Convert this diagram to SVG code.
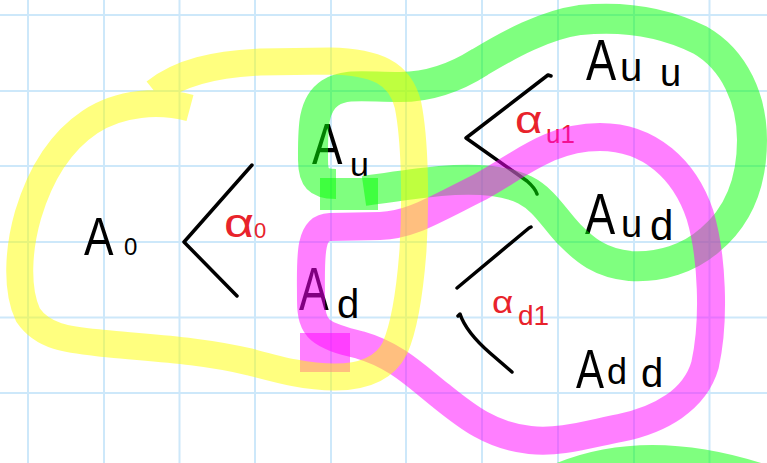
<svg xmlns="http://www.w3.org/2000/svg" width="767" height="463" viewBox="0 0 767 463">
<style>
.grid{stroke:#cde8fa;stroke-width:2;fill:none}
.lbl{font-family:"Liberation Sans",Arial,sans-serif;fill:#000}
.red{font-family:"Liberation Sans",Arial,sans-serif;fill:#e8232b}
.ink{stroke:#000;stroke-width:3.5;fill:none;stroke-linecap:round;stroke-linejoin:round}
.hl{fill:none;stroke-opacity:0.5;stroke-linejoin:round}
.y{stroke:#ffff00;stroke-width:27;stroke-linecap:butt}
.g{stroke:#00ff00;stroke-width:30;stroke-linecap:butt}
.m{stroke:#ff00ff;stroke-width:28;stroke-linecap:butt}
</style>
<rect width="767" height="463" fill="#fff"/>
<g id="grid" class="grid">
<path d="M28,0V463M104,0V463M179.5,0V463M255,0V463M331,0V463M406,0V463M482,0V463M558,0V463M634,0V463M709.5,0V463"/>
<path d="M0,15H767M0,91H767M0,166H767M0,242H767M0,317.5H767M0,393H767"/>
</g>
<g id="node-A0"><text class="lbl" transform="translate(84,255) scale(0.82,1)" font-size="54">A</text><text class="lbl" x="124" y="255" font-size="24">0</text></g>
<g id="node-Au"><text class="lbl" transform="translate(312,164) scale(0.8,1)" font-size="57">A</text><text class="lbl" x="350" y="176" font-size="34">u</text></g>
<g id="node-Ad"><text class="lbl" transform="translate(299,310) scale(0.72,1)" font-size="62">A</text><text class="lbl" x="337" y="318" font-size="40">d</text></g>
<g id="node-Auu"><text class="lbl" transform="translate(586,80) scale(0.78,1)" font-size="58">A</text><text class="lbl" x="620" y="81" font-size="40">u</text><text class="lbl" x="660" y="86" font-size="38">u</text></g>
<g id="node-Aud"><text class="lbl" transform="translate(585,234) scale(0.78,1)" font-size="58">A</text><text class="lbl" x="621" y="237" font-size="38">u</text><text class="lbl" x="650" y="240" font-size="42">d</text></g>
<g id="node-Add"><text class="lbl" transform="translate(576,388) scale(0.75,1)" font-size="56">A</text><text class="lbl" x="607" y="384" font-size="36">d</text><text class="lbl" x="641" y="387" font-size="40">d</text></g>
<g id="label-a0"><text class="red" transform="translate(224,237) scale(1.3,1)" font-size="40">α</text><text class="red" x="254" y="238" font-size="22">0</text></g>
<g id="label-au1"><text class="red" transform="translate(515,133) scale(1.25,1)" font-size="38">α</text><text class="red" x="546" y="143" font-size="26">u1</text></g>
<g id="label-ad1"><text class="red" transform="translate(492,313) scale(1.15,1)" font-size="32">α</text><text class="red" x="518" y="325" font-size="28">d1</text></g>
<g id="connectors" class="ink">
<path d="M252,165 L184,242 L237,296"/>
<path d="M551,76 L548,75 L466,138 L527,181 Q535,188 537,194"/>
<path d="M457,288 L529,228 L531,227"/>
<path d="M458,316 L460,314 Q466,332 490,353 L512,372"/>
</g>
<g id="highlights">
<path class="hl g" d="M336,184 C318,184 313,178 313,160 C313,130 312,105 330,93 C345,83 365,87 400,87 C430,87 455,78 480,62 C510,44 545,25 580,20 C620,16 660,20 700,40 C735,60 752,100 752,140 C752,180 740,215 710,240 C690,258 660,268 630,266 C600,263 585,250 570,235 C555,220 545,200 525,190 C505,180 475,178 440,181 C410,184 385,188 364,191"/>
<path class="hl g" d="M320,194 H378" style="stroke-width:32"/>
<path class="hl g" d="M555,480 Q645,440 765,480"/>
<path class="hl m" d="M311,300 C311,260 308,228 330,227 L380,226 C410,225 430,212 480,187 C520,165 550,137 600,137 C650,137 685,170 700,215 C712,255 715,320 705,365 C695,400 660,420 620,428 C585,435 560,443 530,440 C490,436 465,415 440,395 C415,375 395,355 360,345 C320,335 311,330 311,300 Z"/>
<rect x="300" y="333" width="50" height="39" fill="#ff00ff" fill-opacity="0.5"/>
<path class="hl y" d="M190,108 C160,100 120,102 90,122 C60,142 40,175 28,215 C18,250 16,290 28,315 C45,340 75,340 110,344 C150,348 200,350 250,362 C280,370 305,377 335,377 C365,377 385,368 395,348 C405,325 410,290 413,250 C416,200 415,140 408,105 C400,72 375,62 330,61 L260,62 C215,64 180,72 155,92"/>
</g>
</svg>
